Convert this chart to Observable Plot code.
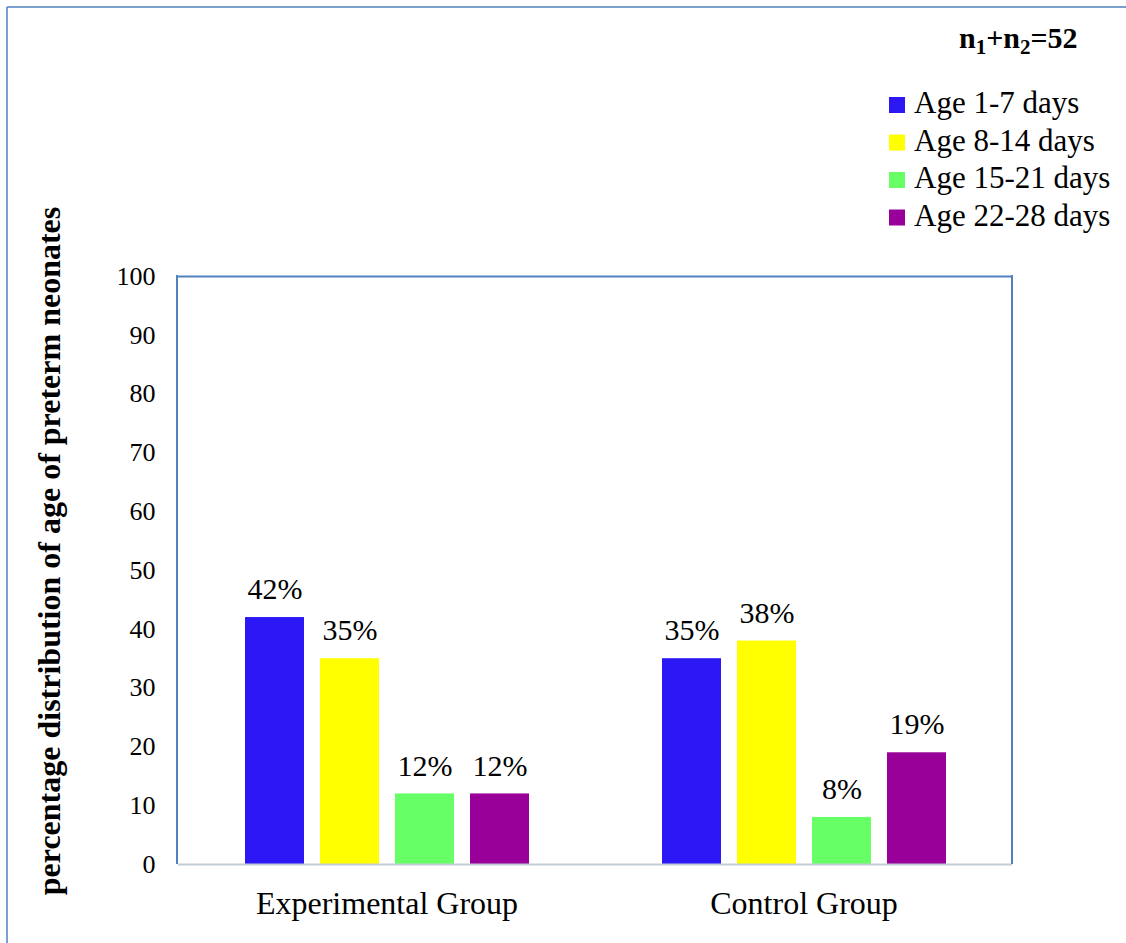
<!DOCTYPE html>
<html>
<head>
<meta charset="utf-8">
<script src="https://cdn.jsdelivr.net/npm/d3@7"></script>
<script src="https://cdn.jsdelivr.net/npm/@observablehq/plot@0.6"></script>
<style>
  html, body { margin: 0; padding: 0; background: #fff; }
  #chart { position: relative; width: 1126px; height: 943px; }
  #chart svg { display: block; }
</style>
</head>
<body>
<div id="chart"></div>
<script>
// Age distribution of preterm neonates by study group (percent)
const groups = ["Experimental Group", "Control Group"];
const ages = ["Age 1-7 days", "Age 8-14 days", "Age 15-21 days", "Age 22-28 days"];
const experimentalValues = [42, 35, 12, 12];
const controlValues = [35, 38, 8, 19];
const ageColors = ["#2b18f5", "#ffff00", "#66ff66", "#990099"];
const yTicks = [0, 10, 20, 30, 40, 50, 60, 70, 80, 90, 100];
const yLabel = "percentage distribution of age of preterm neonates";
const sampleSize = 52;

const rows = [];
ages.forEach((age, i) => {
  rows.push({group: groups[0], age, value: experimentalValues[i]});
  rows.push({group: groups[1], age, value: controlValues[i]});
});

const frameBlue = "#4f81bd";
const serif = "'Liberation Serif', 'Times New Roman', serif";
const W = 1126, H = 943;
const mLeft = 177, mRight = 114, mTop = 276, mBottom = 79;

const plot = Plot.plot({
  width: W,
  height: H,
  marginLeft: mLeft,
  marginRight: mRight,
  marginTop: mTop,
  marginBottom: mBottom,
  style: {fontFamily: serif, color: "#000", background: "#fff"},
  fx: {domain: groups, padding: 0},
  x: {domain: ages, paddingInner: 0.22, paddingOuter: 0.87, axis: null},
  y: {domain: [0, 100]},
  color: {domain: ages, range: ageColors},
  marks: [
    Plot.ruleY([100], {stroke: frameBlue, strokeWidth: 2}),
    Plot.barY(rows, {fx: "group", x: "age", y: "value", fill: "age"}),
    Plot.ruleY([0], {stroke: "#c4ccd6", strokeWidth: 2}),
    Plot.text(rows, {
      fx: "group", x: "age", y: "value",
      text: d => d.value + "%",
      dy: -28, fontSize: 30, fill: "#000"
    }),
    Plot.axisY({ticks: yTicks, tickSize: 0, tickPadding: 23, fontSize: 26, label: null}),
    Plot.axisFx({anchor: "bottom", tickSize: 0, tickPadding: 27, fontSize: 32, label: null})
  ]
});

document.getElementById("chart").appendChild(plot);

const svg = d3.select(plot);
const y = plot.scale("y");
const yTop = y.apply(100), yBase = y.apply(0);

// left and right edges of the plot area frame
svg.append("line")
  .attr("x1", mLeft).attr("x2", mLeft).attr("y1", yTop - 1).attr("y2", yBase)
  .attr("stroke", frameBlue).attr("stroke-width", 2);
svg.append("line")
  .attr("x1", W - mRight).attr("x2", W - mRight).attr("y1", yTop - 1).attr("y2", yBase)
  .attr("stroke", frameBlue).attr("stroke-width", 2);

// outer chart border (left and top)
svg.append("line")
  .attr("x1", 7).attr("x2", 7).attr("y1", 7).attr("y2", H)
  .attr("stroke", frameBlue).attr("stroke-width", 1.5);
svg.append("line")
  .attr("x1", 7).attr("x2", W).attr("y1", 7).attr("y2", 7)
  .attr("stroke", frameBlue).attr("stroke-width", 1.5);

// rotated y-axis title
svg.append("text")
  .attr("transform", "translate(60,551) rotate(-90)")
  .attr("text-anchor", "middle")
  .attr("font-family", serif)
  .attr("font-size", 32)
  .attr("font-weight", "bold")
  .attr("fill", "#000")
  .text(yLabel);

// sample size note
const note = svg.append("text")
  .attr("x", 959).attr("y", 48)
  .attr("text-anchor", "start")
  .attr("font-family", serif)
  .attr("font-size", 30)
  .attr("font-weight", "bold")
  .attr("fill", "#000");
note.append("tspan").text("n");
note.append("tspan").attr("font-size", 21).attr("dy", 6).text("1");
note.append("tspan").attr("dy", -6).text("+n");
note.append("tspan").attr("font-size", 21).attr("dy", 6).text("2");
note.append("tspan").attr("dy", -6).text("=" + sampleSize);

// legend
const legend = svg.append("g").attr("transform", "translate(889,97)");
ages.forEach((age, i) => {
  const g = legend.append("g").attr("transform", `translate(0,${i * 37.5})`);
  g.append("rect").attr("width", 16).attr("height", 16).attr("fill", ageColors[i]);
  g.append("text")
    .attr("x", 25).attr("y", 16)
    .attr("text-anchor", "start")
    .attr("font-family", serif)
    .attr("font-size", 31)
    .attr("fill", "#000")
    .text(age);
});
</script>
</body>
</html>
